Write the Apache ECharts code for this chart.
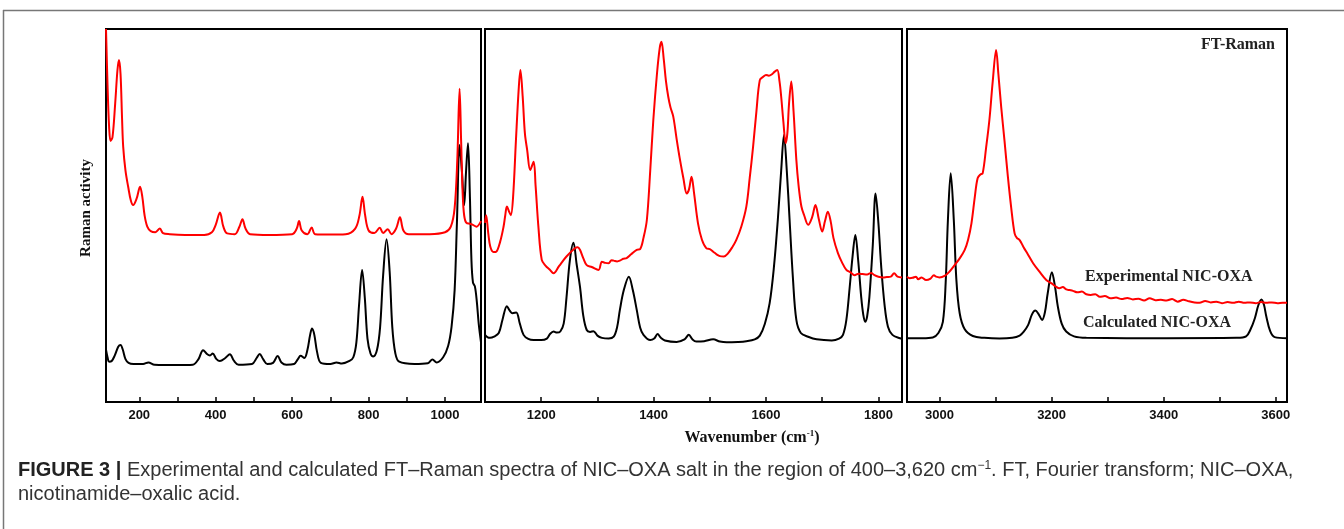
<!DOCTYPE html>
<html>
<head>
<meta charset="utf-8">
<script src="https://cdn.jsdelivr.net/npm/echarts@6/dist/echarts.min.js"></script>
<style>
html,body{margin:0;padding:0;background:#fff;}
#chart{width:1344px;height:529px;}
</style>
</head>
<body>
<div id="chart"></div>
<script>
// ---- Data (wavenumber cm^-1, relative Raman activity 0-100) ----
const exp1 = [[113,100],[117,85],[121,74],[125,70],[130,71],[137,80],[143,89],[147,91.7],[151,88],[155,76],[158,68.4],[164,62],[171,57.7],[178,54],[184,52.8],[193,54.5],[202,57.7],[208,55],[214,50],[221,47],[230,45.8],[242,45.5],[254,46.5],[262,45.3],[280,45],[320,44.8],[370,44.8],[390,45.5],[400,47.5],[411,50.8],[420,47],[430,45.2],[450,45],[462,47],[470,49],[478,46.5],[490,45],[540,44.8],[600,45],[612,46.5],[618,48.5],[625,46],[640,45],[651,46.8],[660,45],[700,44.9],[740,45],[765,46.5],[776,50],[784,55],[791,50],[800,46],[815,45.3],[829,46.7],[838,45.3],[850,46.3],[860,45],[872,46.5],[882,49.5],[891,46],[905,45],[960,45],[1000,45.5],[1015,47],[1025,52],[1032,65],[1038,84],[1042,70],[1046,56],[1050,50],[1056,48],[1065,47.8],[1073,47.5],[1082,47],[1094,48.5]];
const calc1 = [[113,14],[117,12],[121,10.8],[128,11],[136,12.5],[145,14.8],[151,15.3],[157,14],[164,11.5],[172,10.5],[185,10.2],[210,10.2],[224,10.6],[240,10],[300,9.9],[340,10],[355,11.5],[367,13.9],[378,12.8],[385,12.5],[392,13],[402,11.5],[411,11],[425,11.8],[437,12.8],[448,11],[460,10],[495,10.2],[507,11.8],[515,12.9],[524,11.5],[535,10.2],[550,10.5],[562,12.3],[572,10.6],[585,10],[605,10.2],[615,11.5],[622,12.4],[632,11.8],[640,14],[647,18],[652,19.7],[658,18],[665,13.5],[675,10.5],[700,10.2],[716,10.6],[730,10.3],[750,11],[760,12],[768,16],[775,26],[783,35.4],[790,28],[797,17],[805,13],[812,12.2],[822,14],[830,20],[838,34],[847,43.6],[855,35],[862,20],[870,13],[880,10.8],[920,10.2],[955,10.4],[967,11.4],[978,10.6],[995,12],[1008,15],[1017,20.2],[1025,30],[1031,48],[1038,68.9],[1044,62],[1050,52.8],[1055,62],[1060,69.4],[1065,55],[1069,38],[1073,32],[1078,31],[1083,27],[1088,21],[1094,16]];
const exp2 = [[1100,48],[1102,50.1],[1106,45],[1109.5,41.6],[1115,40.2],[1120,40.3],[1127,43],[1133,47],[1136,50],[1139,52.4],[1143,51],[1146,50.1],[1150,55],[1155,70],[1160,84],[1163,89],[1167,82],[1171,72],[1175,67.6],[1180.5,62.2],[1186.5,64.4],[1190,58],[1195,47],[1201,38.1],[1208,36.5],[1215,35.5],[1222,34.5],[1232,36.5],[1245,39],[1260,41.2],[1265,41.5],[1269,40.8],[1275,38.5],[1281,36.7],[1290,36.2],[1302,35.4],[1308,37.6],[1314,37.3],[1320,37.2],[1325,38],[1329,37.9],[1335,37.7],[1340,37.9],[1346,38.4],[1352,38.6],[1360,39.6],[1370,40.8],[1376,41],[1382,44],[1388,48.8],[1394,62],[1399.5,75.6],[1406,88],[1411,95],[1414,96.6],[1418,92],[1422,86],[1426,81.9],[1430,79],[1435,76.5],[1441,70.5],[1447,64.9],[1453,60],[1459,55.9],[1463,57],[1467.5,60.4],[1472,56],[1479,47.9],[1486,43.5],[1494,41.2],[1500,41],[1506,40.3],[1512,39.6],[1518,39.1],[1525,39],[1532,39.8],[1540,41.5],[1547,43.4],[1556,47],[1565,52.4],[1571,60],[1577,68.4],[1583,78],[1589,86.3],[1595,87.2],[1600,87.7],[1605,87.5],[1610,87.8],[1615,88.5],[1620,89],[1624,86],[1627,81.9],[1631,75],[1635,69.4],[1638,72],[1641,80],[1645,85.9],[1649,78],[1654,64.9],[1658,58],[1663,52.4],[1668,50],[1675,47.5],[1682,49.5],[1688,52.8],[1694,49],[1700,45.7],[1705,48.5],[1710,51],[1715,48.5],[1720,44],[1728,39.9],[1735,37.5],[1743,35.4],[1750,34.8],[1757.5,34],[1765,34.4],[1772,34.3],[1780,34.2],[1787,34.6],[1793,34],[1800,33.6],[1808,33.4],[1815,33.5],[1822,33.6],[1828,34.5],[1834,33.6],[1842,33.4]];
const calc2 = [[1100,18],[1105,17.3],[1109,17.2],[1116,17.5],[1124.5,18.5],[1131,22],[1139,25.7],[1144,24.5],[1149,23.8],[1155.6,24],[1162,21],[1168.6,18],[1177,16.9],[1186.5,16.6],[1200,16.6],[1210,17],[1216,18.3],[1222,18.9],[1228,18.6],[1234,18.9],[1240,21],[1245,28],[1251,38],[1257.4,42.7],[1263,37],[1269,30.9],[1275,23],[1281,19.3],[1287,18.8],[1293,19],[1300,17.8],[1308,17.2],[1320,17],[1329,17.5],[1335,20],[1340,24.7],[1347,30],[1356,33.6],[1363,30],[1370,24.7],[1376,20],[1382,18],[1394,16.6],[1401,17],[1407,18.2],[1413,17.2],[1420,16.5],[1441,16.1],[1455,16.8],[1462.7,18],[1469,16.8],[1476,16.2],[1490,16.3],[1506,16.8],[1518,16.2],[1530,16],[1550,16.1],[1565,16.3],[1580,16.8],[1589,17.8],[1598,21],[1606.5,26.5],[1614,36],[1621,48.8],[1627,62],[1632,71.6],[1637,62],[1642,48.8],[1648,33],[1654,22],[1662,18.5],[1675,17.5],[1690,16.8],[1717,16.5],[1730,17],[1737,18],[1743,22],[1749,30.9],[1754,39],[1759,44.8],[1764,38],[1769.5,28],[1773,23.5],[1776.5,21.5],[1780,23],[1784,28.2],[1790,42],[1795,55.9],[1800,48],[1805,36.3],[1811,26],[1817,20.2],[1825,18],[1838.5,17.1],[1842,17]];
const exp3 = [[2942,33.6],[2947,33.2],[2952,33.3],[2958,33.6],[2962,32.9],[2968,33.4],[2976,32.7],[2984,33.1],[2990,34],[2994,33.6],[3000,33.4],[3009,33.8],[3018,35],[3027,36.7],[3036,38.5],[3045,40.8],[3051,43.5],[3057,47.9],[3063,55],[3068,60],[3073,61],[3077,61.3],[3083,68],[3089,75.6],[3095,86],[3101,94.4],[3105,88],[3110,79.2],[3116,70],[3122,60.4],[3128,52],[3134,45.2],[3138,44],[3143,43.4],[3150,41.5],[3158,39.5],[3167,37.2],[3178,35],[3190.5,32.7],[3200,31.8],[3207,31],[3214,30.5],[3220,30.8],[3226,30.2],[3232,30],[3238,29.8],[3246,29.4],[3254,29.6],[3262,28.9],[3270,28.7],[3278,28.9],[3286,28.2],[3295,28.4],[3305,27.8],[3315,28],[3325,27.6],[3335,27.9],[3345,27.5],[3355,27.7],[3365,27.2],[3375,27.8],[3385,27.3],[3395,27.4],[3405,27.2],[3415,27.6],[3425,26.9],[3435,27.4],[3445,27],[3455,26.7],[3464,26.6],[3474,27.1],[3484,26.7],[3494,26.9],[3504,26.5],[3514,26.8],[3524,26.6],[3534,26.9],[3544,26.6],[3554,26.7],[3564,26.5],[3574,26.8],[3583,26.6],[3593,26.7],[3603,26.5],[3612,26.6],[3620,26.6]];
const calc3 = [[2942,17.1],[2970,17.1],[2988,17.3],[2998,18.5],[3006,21.5],[3011,32],[3015,48.8],[3020,61.3],[3025.5,48.8],[3030,33],[3036,23.8],[3045,19.5],[3059.5,17.7],[3080,17.2],[3107,17],[3130,17.2],[3143,17.8],[3150,18.8],[3158,20.6],[3165,23.5],[3171,24.5],[3177,23.5],[3183,22],[3188,24],[3193,29.1],[3200.5,34.8],[3206,31],[3211,25.7],[3218,21],[3226,18.9],[3240,17.6],[3262,17.2],[3405,17.1],[3530,17.2],[3547,17.6],[3555,19.5],[3562.5,22.4],[3569,26],[3574.5,27.5],[3579,26],[3583,23],[3590,19],[3598,17.4],[3620,17.1]];

// axis ranges and ticks
const xRanges = [[113,1094],[1100,1842],[2942,3620]];
const tickVals = [
  [200,300,400,500,600,700,800,900,1000],
  [1200,1300,1400,1500,1600,1700,1800],
  [3000,3100,3200,3300,3400,3500,3600]
];
const labelVals = [
  [200,400,600,800,1000],
  [1200,1400,1600,1800],
  [3000,3200,3400,3600]
];
const expData = [exp1, exp2, exp3];
const calcData = [calc1, calc2, calc3];

const gridBoxes = [
  {left:106, top:29, width:375, height:373},
  {left:485, top:29, width:417, height:373},
  {left:907, top:29, width:380, height:373}
];

const chart = echarts.init(document.getElementById('chart'), null, {renderer:'canvas'});
const grids = [], xAxes = [], yAxes = [], series = [];
for (let i = 0; i < 3; i++) {
  grids.push(Object.assign({show:true, borderColor:'#000', borderWidth:2, backgroundColor:'transparent'}, gridBoxes[i]));
  xAxes.push({
    type:'value', gridIndex:i, min:xRanges[i][0], max:xRanges[i][1],
    axisLine:{show:true, onZero:false, lineStyle:{color:'#000', width:2}},
    axisTick:{show:true, inside:true, length:5, customValues:tickVals[i], lineStyle:{color:'#000', width:1.5}},
    axisLabel:{show:true, customValues:labelVals[i], margin:7, color:'#111', fontFamily:'Liberation Sans, Arial, sans-serif', fontWeight:'bold', fontSize:13,
      formatter:function(v){return String(v);}},
    splitLine:{show:false}
  });
  yAxes.push({type:'value', gridIndex:i, min:0, max:100, show:false, splitLine:{show:false}});
  series.push({
    type:'line', xAxisIndex:i, yAxisIndex:i, data:calcData[i], showSymbol:false, smooth:0.35,
    lineStyle:{color:'#000', width:2}, clip:true, silent:true
  });
  series.push({
    type:'line', xAxisIndex:i, yAxisIndex:i, data:expData[i], showSymbol:false, smooth:0.35,
    lineStyle:{color:'#ff0000', width:2}, clip:true, silent:true
  });
}

const serif = 'Liberation Serif, Times New Roman, serif';
const sans = 'Liberation Sans, Arial, Helvetica, sans-serif';
chart.setOption({
  animation:false,
  backgroundColor:'#fff',
  grid:grids, xAxis:xAxes, yAxis:yAxes, series:series,
  graphic:[
    {type:'line', shape:{x1:3, y1:10.5, x2:1344, y2:10.5}, style:{stroke:'#777', lineWidth:1.5}},
    {type:'line', shape:{x1:3.5, y1:10, x2:3.5, y2:529}, style:{stroke:'#777', lineWidth:1.5}},
    {type:'text', x:86, y:208, rotation:Math.PI/2, style:{text:'Raman activity', font:'bold 15px '+serif, fill:'#111', align:'center', verticalAlign:'middle'}},
    {type:'text', x:752, y:438, style:{text:'{a|Wavenumber (cm}{s|-1}{a|)}', align:'center', verticalAlign:'middle',
      rich:{a:{font:'bold 16px '+serif, fill:'#111'}, s:{font:'bold 9px '+serif, fill:'#111', verticalAlign:'top', padding:[0,0,8,0]}}}},
    {type:'text', x:1275, y:45, style:{text:'FT-Raman', font:'bold 16px '+serif, fill:'#222', align:'right', verticalAlign:'middle'}},
    {type:'text', x:1085, y:277, style:{text:'Experimental NIC-OXA', font:'bold 16px '+serif, fill:'#222', align:'left', verticalAlign:'middle'}},
    {type:'text', x:1083, y:323, style:{text:'Calculated NIC-OXA', font:'bold 16px '+serif, fill:'#222', align:'left', verticalAlign:'middle'}},
    {type:'text', x:18, y:470, style:{text:'{b|FIGURE 3 | }{n|Experimental and calculated FT\u2013Raman spectra of NIC\u2013OXA salt in the region of 400\u20133,620 cm}{sup|\u22121}{n|. FT, Fourier transform; NIC\u2013OXA,}',
      verticalAlign:'middle', align:'left',
      rich:{b:{font:'bold 20px '+sans, fill:'#222'}, n:{font:'20px '+sans, fill:'#333'}, sup:{font:'12px '+sans, fill:'#333', padding:[0,0,9,0]}}}},
    {type:'text', x:18, y:494, style:{text:'nicotinamide\u2013oxalic acid.', font:'20px '+sans, fill:'#333', align:'left', verticalAlign:'middle'}}
  ]
});
</script>
</body>
</html>
